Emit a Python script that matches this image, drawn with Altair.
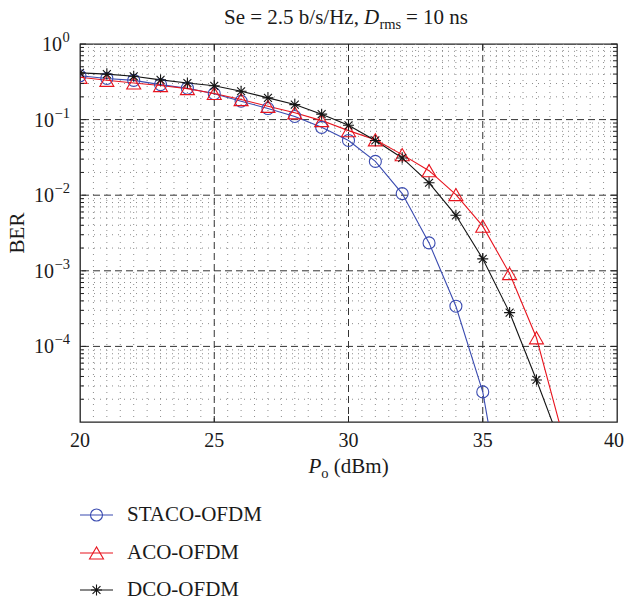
import altair as alt
import pandas as pd

# ---------------- data ----------------
schemes = ["STACO-OFDM", "ACO-OFDM", "DCO-OFDM"]
colors = ["#3A4BB0", "#E8141E", "#141414"]

p_o_staco = list(range(20, 37))
ber_staco = [0.38, 0.35, 0.33, 0.29, 0.26, 0.22, 0.175, 0.14, 0.11, 0.079,
             0.053, 0.028, 0.0105, 0.00234, 3.4e-4, 2.5e-5, 2.5e-7]

p_o_aco = list(range(20, 39))
ber_aco = [0.363, 0.331, 0.305, 0.282, 0.257, 0.222, 0.184, 0.15, 0.123, 0.097,
           0.0715, 0.054, 0.0344, 0.0211, 0.0102, 0.0039, 9.2e-4, 1.3e-4, 6.2e-6]

p_o_dco = list(range(20, 39))
ber_dco = [0.415, 0.40, 0.374, 0.335, 0.305, 0.28, 0.237, 0.194, 0.158, 0.118,
           0.084, 0.053, 0.0311, 0.0146, 0.00542, 0.00144, 2.8e-4, 3.6e-5, 4.1e-6]

x_ticks = [20, 25, 30, 35, 40]
x_tick_labels = ["20", "25", "30", "35", "40"]
x_inner_ticks = [25, 30, 35]
y_decades = [1, 1e-1, 1e-2, 1e-3, 1e-4]
y_exponents = ["0", "\u22121", "\u22122", "\u22123", "\u22124"]
y_minor = [m * 10.0 ** k for k in range(-5, 0) for m in range(2, 10)]
x_minor = [20 + 0.5 * i for i in range(1, 40) if (20 + 0.5 * i) not in (25, 30, 35)]

title_parts = ["Se = 2.5 b/s/Hz,", "D", "rms", "= 10 ns"]
xlabel_parts = ["P", "o", "(dBm)"]
ylabel = "BER"

# ---------------- layout ----------------
W, H = 537, 378
FONT = "Liberation Serif"
TXT = "#1a1a1a"

line_df = pd.concat([
    pd.DataFrame({"p_o": p_o_staco, "ber": ber_staco, "scheme": schemes[0]}),
    pd.DataFrame({"p_o": p_o_aco, "ber": ber_aco, "scheme": schemes[1]}),
    pd.DataFrame({"p_o": p_o_dco, "ber": ber_dco, "scheme": schemes[2]}),
], ignore_index=True)

xs = alt.Scale(domain=[20, 40], nice=False, zero=False)
ys = alt.Scale(type="log", domain=[1e-5, 1], nice=False)
color_scale = alt.Scale(domain=schemes, range=colors)


def X(f):
    return alt.X(f, type="quantitative", scale=xs, axis=None)


def Y(f):
    return alt.Y(f, type="quantitative", scale=ys, axis=None)


def txt(s, x, y, size=21, style="normal", align="left", baseline="alphabetic", angle=None):
    kw = dict(font=FONT, fontSize=size, fontStyle=style, align=align,
              baseline=baseline, color=TXT)
    if angle is not None:
        kw["angle"] = angle
    return alt.Chart(pd.DataFrame({"t": [s]})).mark_text(**kw).encode(
        x=alt.value(x), y=alt.value(y), text="t:N")


# minor grid (dotted)
minor_kw = dict(color="#8c8c8c", strokeWidth=1, strokeDash=[1, 5])
minor_v = alt.Chart(pd.DataFrame({"v": x_minor})).mark_rule(**minor_kw).encode(x=X("v"))
minor_h = alt.Chart(pd.DataFrame({"v": y_minor})).mark_rule(**minor_kw).encode(y=Y("v"))

# major grid (dashed)
major_kw = dict(color="#333333", strokeWidth=1, strokeDash=[7, 4])
major_v = alt.Chart(pd.DataFrame({"v": x_inner_ticks})).mark_rule(**major_kw).encode(x=X("v"))
major_h = alt.Chart(pd.DataFrame({"v": y_decades[1:]})).mark_rule(**major_kw).encode(y=Y("v"))

# curves
lines = alt.Chart(line_df).mark_line(clip=True, strokeWidth=1.1).encode(
    x=X("p_o"), y=Y("ber"),
    color=alt.Color("scheme:N", scale=color_scale, legend=None))

star_path = "M0,-1V1M-1,0H1M-0.72,-0.72L0.72,0.72M-0.72,0.72L0.72,-0.72"
pt_shapes = ["circle", "triangle-up", star_path]
pt_sizes = [144, 196, 121]
points = []
for s, c, shp, sz in zip(schemes, colors, pt_shapes, pt_sizes):
    points.append(
        alt.Chart(line_df).transform_filter(alt.datum.scheme == s).mark_point(
            shape=shp, size=sz, filled=False, strokeWidth=1.1, color=c, opacity=1,
            clip=True).encode(x=X("p_o"), y=Y("ber")))

# legend below the plot: line sample + marker + label
leg_rows = [471, 509, 546]
legend = []
for s, c, shp, sz, ry in zip(schemes, colors, pt_shapes, pt_sizes, leg_rows):
    legend.append(alt.Chart(pd.DataFrame({"t": [s]})).mark_rule(
        color=c, strokeWidth=1.1).encode(x=alt.value(0), x2=alt.value(33), y=alt.value(ry)))
    legend.append(alt.Chart(pd.DataFrame({"t": [s]})).mark_point(
        shape=shp, size=sz, filled=False, strokeWidth=1.1, color=c, opacity=1).encode(
        x=alt.value(16.5), y=alt.value(ry)))
    legend.append(txt(s, 47, ry, align="left", baseline="middle"))

# inward ticks
yt_major = pd.DataFrame({"v": y_decades})
yt_minor = pd.DataFrame({"v": y_minor})
xt = pd.DataFrame({"v": x_inner_ticks})
tick_kw = dict(color="#222", strokeWidth=1)
ticks = [
    alt.Chart(yt_minor).mark_rule(**tick_kw).encode(y=Y("v"), x=alt.value(0), x2=alt.value(4)),
    alt.Chart(yt_minor).mark_rule(**tick_kw).encode(y=Y("v"), x=alt.value(W), x2=alt.value(W - 4)),
    alt.Chart(yt_major).mark_rule(**tick_kw).encode(y=Y("v"), x=alt.value(0), x2=alt.value(6)),
    alt.Chart(yt_major).mark_rule(**tick_kw).encode(y=Y("v"), x=alt.value(W), x2=alt.value(W - 6)),
    alt.Chart(xt).mark_rule(**tick_kw).encode(x=X("v"), y=alt.value(H), y2=alt.value(H - 6)),
    alt.Chart(xt).mark_rule(**tick_kw).encode(x=X("v"), y=alt.value(0), y2=alt.value(6)),
]

# x tick labels (the last one kept inside the page edge)
xlab_df = pd.DataFrame({"v": x_ticks, "t": x_tick_labels})
xlab = alt.Chart(xlab_df).transform_filter(alt.datum.v < 40).mark_text(
    font=FONT, fontSize=20, color=TXT, align="center", baseline="alphabetic").encode(
    x=X("v"), y=alt.value(H + 25), text="t:N")
xlab_last = alt.Chart(xlab_df).transform_filter(alt.datum.v >= 40).mark_text(
    font=FONT, fontSize=20, color=TXT, align="right", baseline="alphabetic", dx=7).encode(
    x=X("v"), y=alt.value(H + 25), text="t:N")

# y tick labels: 10 with superscript exponent
dec_df = pd.DataFrame({"v": y_decades, "e": y_exponents, "b": ["10"] * len(y_decades)})
zero_df = dec_df[dec_df["e"] == "0"]
neg_df = dec_df[dec_df["e"] != "0"]
ylabels = []
for df, xb in [(zero_df, -18), (neg_df, -26)]:
    ylabels.append(alt.Chart(df).mark_text(font=FONT, fontSize=20, color=TXT, align="right",
                                           baseline="alphabetic", dy=7).encode(
        x=alt.value(xb), y=Y("v"), text="b:N"))
    ylabels.append(alt.Chart(df).mark_text(font=FONT, fontSize=14.5, color=TXT, align="left",
                                           baseline="alphabetic", dy=-2).encode(
        x=alt.value(xb + 0.5), y=Y("v"), text="e:N"))

# titles
texts = [
    txt(title_parts[0], 144, -20),
    txt(title_parts[1], 284, -20, style="italic"),
    txt(title_parts[2], 299.5, -15, size=14.5),
    txt(title_parts[3], 326, -20),
    txt(xlabel_parts[0], 228.4, 429, style="italic"),
    txt(xlabel_parts[1], 241.2, 434, size=14.5),
    txt(xlabel_parts[2], 253.8, 429),
    txt(ylabel, -62, H / 2, align="center", baseline="middle", angle=270),
]

chart = alt.layer(
    minor_v, minor_h, major_v, major_h, lines, *points, *ticks, xlab, xlab_last,
    *ylabels, *texts, *legend
).properties(
    width=W, height=H,
    autosize=alt.AutoSizeParams(type="none"),
    padding={"left": 80, "top": 44, "right": 8, "bottom": 179},
    background="white",
).configure_view(stroke="#222", strokeWidth=1.3)

chart.save("out.html", embed_options={"renderer": "svg", "actions": False})
